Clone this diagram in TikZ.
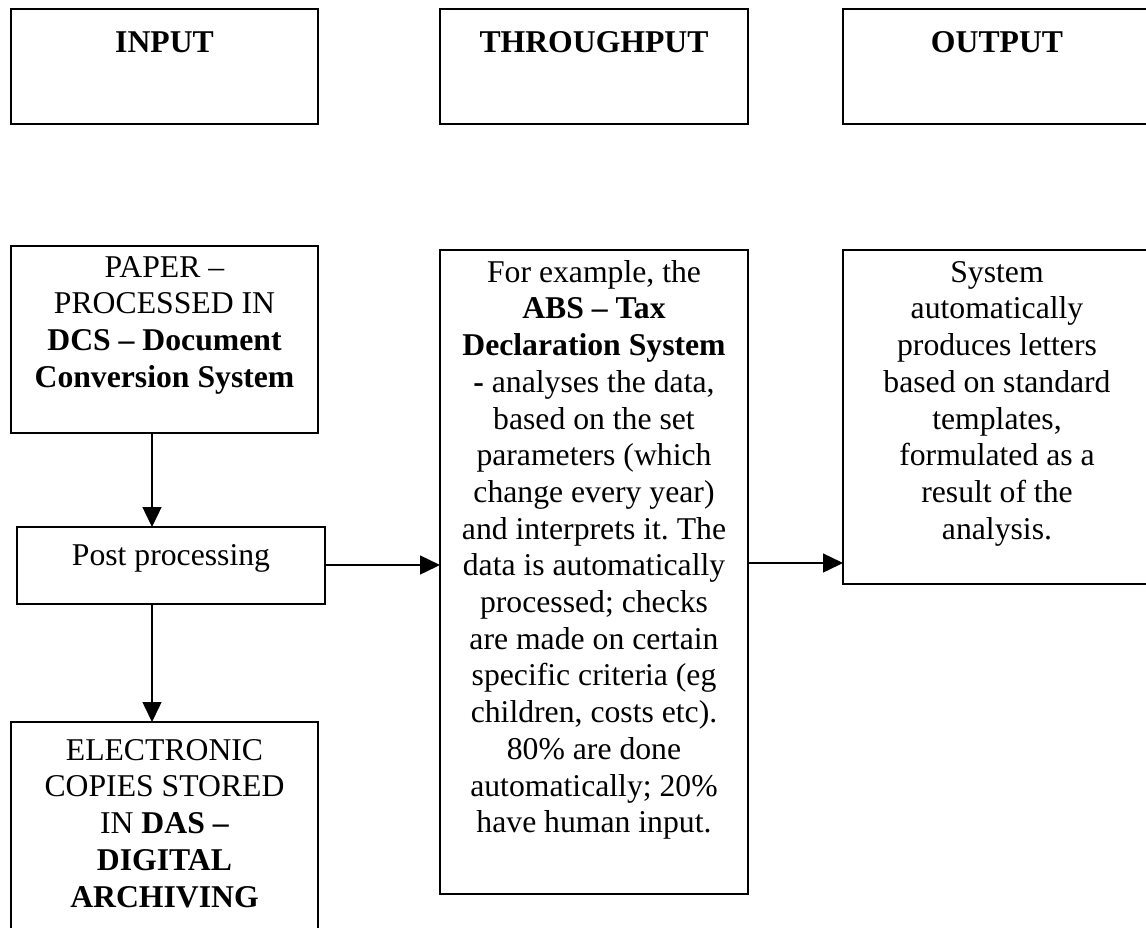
\documentclass[tikz,border=0pt]{standalone}
\usepackage{fontspec}
\setmainfont{Liberation Serif}
\usetikzlibrary{arrows.meta}
\frenchspacing

\begin{document}
\begin{tikzpicture}[x=1pt, y=-1pt,
  box/.style={draw, line width=1.4pt, rectangle, anchor=north west,
    inner sep=0pt, outer sep=0pt},
  txt/.style={anchor=north, inner sep=0pt, align=center,
    font=\fontsize{31.7pt}{36.7pt}\selectfont},
  arr/.style={line width=1.4pt, -{Triangle[length=20pt, width=19pt]}}
]
\useasboundingbox (0,0) rectangle (1146,927);
\fill[white] (0,0) rectangle (1146,927);

% column headings
\node[box, minimum width=307pt, minimum height=115pt] (inbox)  at (11,9)  {};
\node[box, minimum width=308pt, minimum height=115pt] (thrbox) at (440,9) {};
\node[box, minimum width=308pt, minimum height=115pt] (outbox) at (843,9) {};
\node[txt] (inT)  at ([yshift=-17pt]inbox.north)  {\rule{0pt}{26pt}\textbf{INPUT}};
\node[txt] (thrT) at ([yshift=-17pt]thrbox.north) {\rule{0pt}{26pt}\textbf{THROUGHPUT}};
\node[txt] (outT) at ([yshift=-17pt]outbox.north) {\rule{0pt}{26pt}\textbf{OUTPUT}};

% input column
\node[box, minimum width=307pt, minimum height=187pt] (paper) at (11,246) {};
\node[txt] (paperT) at ([yshift=-5pt]paper.north)
  {\rule{0pt}{26pt}PAPER –\\ PROCESSED IN\\ \textbf{DCS – Document}\\ \textbf{Conversion System}};

\node[box, minimum width=308pt, minimum height=77pt] (post) at (17,527) {};
\node[txt] (postT) at ([yshift=-12pt]post.north) {\rule{0pt}{26pt}Post processing};

\node[box, minimum width=307pt, minimum height=260pt] (elec) at (11,722) {};
\node[txt] (elecT) at ([yshift=-12pt]elec.north)
  {\rule{0pt}{26pt}ELECTRONIC\\ COPIES STORED\\ IN \textbf{DAS –}\\ \textbf{DIGITAL}\\ \textbf{ARCHIVING}};

% throughput column
\node[box, minimum width=308pt, minimum height=644pt] (abs) at (440,250) {};
\node[txt] (absT) at ([yshift=-6pt]abs.north)
  {\rule{0pt}{26pt}For example, the\\ \textbf{ABS – Tax}\\ \textbf{Declaration System}\\
   \textbf{-} analyses the data,\\ based on the set\\ parameters (which\\
   change every year)\\ and interprets it. The\\ data is automatically\\
   processed; checks\\ are made on certain\\ specific criteria (eg\\
   children, costs etc).\\ 80\% are done\\ automatically; 20\%\\ have human input.};

% output column
\node[box, minimum width=308pt, minimum height=334pt] (sys) at (843,250) {};
\node[txt] (sysT) at ([yshift=-6pt]sys.north)
  {\rule{0pt}{26pt}System\\ automatically\\ produces letters\\ based on standard\\
   templates,\\ formulated as a\\ result of the\\ analysis.};

% connector guides
\coordinate (vx) at (152,0);
\coordinate (hy1) at (0,565);
\coordinate (hy2) at (0,563);

\draw[arr] (paper.south -| vx) -- (post.north -| vx);
\draw[arr] (post.south -| vx) -- (elec.north -| vx);
\draw[arr] (post.east |- hy1) -- (abs.west |- hy1);
\draw[arr] (abs.east |- hy2) -- (sys.west |- hy2);
\end{tikzpicture}
\end{document}
